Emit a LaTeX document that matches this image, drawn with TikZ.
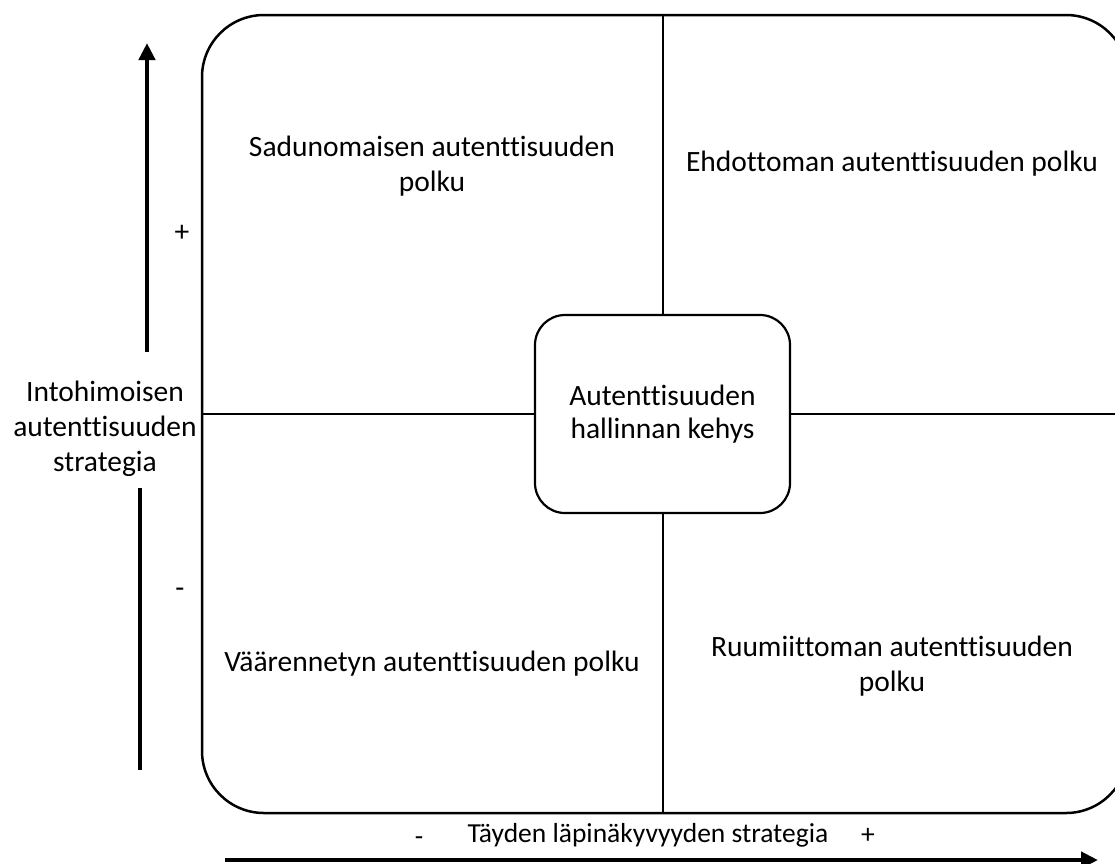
\documentclass[tikz,border=0pt]{standalone}
\usepackage{fontspec}
\setmainfont[RawFeature={-liga;-clig;-dlig}]{Carlito}
\usetikzlibrary{arrows.meta}
\tikzset{
  lbl/.style={font=\fontsize{29.5}{35}\selectfont, align=center, inner sep=0pt},
  smalllbl/.style={font=\fontsize{27.5}{33}\selectfont, align=center, inner sep=0pt},
  frame/.style={draw, line width=2.5pt, rounded corners=62pt, minimum width=926pt, minimum height=798pt, inner sep=0pt, outer sep=0pt},
  centerbox/.style={draw, line width=2.2pt, rounded corners=30pt, minimum width=255pt, minimum height=198pt, inner sep=0pt, outer sep=0pt, font=\fontsize{29.5}{33}\selectfont, align=center},
  divider/.style={line width=2pt},
  axis/.style={line width=4.5pt, -{Triangle[length=17pt,width=16pt]}},
  axisline/.style={line width=4.5pt}
}
\begin{document}
\begin{tikzpicture}[x=1pt,y=-1pt]
\path[use as bounding box] (0,0) rectangle (1115,863);
\clip (0,0) rectangle (1115,863);
\node[frame] (frame) at (665,414) {};
\node[centerbox] (box) at (662.5,414) {Autenttisuuden\\hallinnan kehys};
\draw[divider] (box.north) -- (box.north |- frame.north);
\draw[divider] (box.south) -- (box.south |- frame.south);
\draw[divider] (box.west) -- (frame.west);
\draw[divider] (box.east) -- (frame.east);
\node[lbl] (q1) at (432,166) {Sadunomaisen autenttisuuden\\polku};
\node[lbl] (q2) at (892,164) {Ehdottoman autenttisuuden polku};
\node[lbl] (q3) at (432,664) {Väärennetyn autenttisuuden polku};
\node[lbl] (q4) at (892,666) {Ruumiittoman autenttisuuden\\polku};
\node[lbl] (ylab) at (105,429) {Intohimoisen\\autenttisuuden\\strategia};
\node[lbl] (yplus) at (182,233) {+};
\node[lbl] (yminus) at (180,593) {-};
\node[smalllbl] (xminus) at (419,841) {-};
\node[smalllbl] (xlab) at (648,835) {Täyden läpinäkyvyyden strategia};
\node[smalllbl] (xplus) at (868,836) {+};
\coordinate (upS) at (147,352);
\coordinate (upE) at (147,43);
\coordinate (loS) at (140,488);
\coordinate (loE) at (140,770);
\coordinate (xS) at (225,860);
\coordinate (xE) at (1098,860);
\draw[axis] (upS) -- (upE);
\draw[axisline] (loS) -- (loE);
\draw[axis] (xS) -- (xE);
\end{tikzpicture}
\end{document}
